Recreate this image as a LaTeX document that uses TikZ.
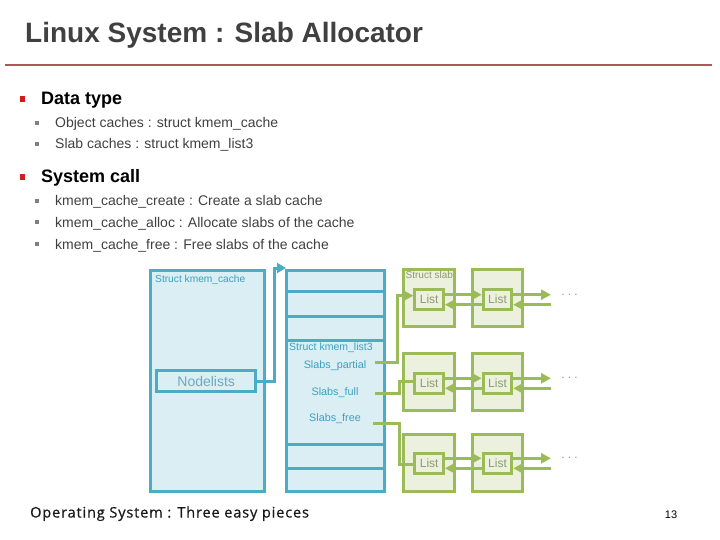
\documentclass[tikz,border=0pt]{standalone}
\usepackage{fontspec}
\setmainfont{Liberation Sans}
\newfontfamily\footfont[LetterSpace=6,FakeBold=0.6]{Open Sans}
\usetikzlibrary{arrows.meta,calc}
\definecolor{bb}{RGB}{75,172,198}
\definecolor{bf}{RGB}{219,238,244}
\definecolor{gb}{RGB}{155,187,89}
\definecolor{gf}{RGB}{235,241,222}
\definecolor{tealtxt}{RGB}{60,160,190}
\definecolor{nltxt}{RGB}{105,170,192}
\definecolor{listtxt}{RGB}{140,155,112}
\definecolor{titlegray}{RGB}{64,64,64}
\definecolor{bodygray}{RGB}{64,64,64}
\definecolor{rulered}{RGB}{172,89,89}
\definecolor{bulletred}{RGB}{204,30,30}
\definecolor{dotgray}{RGB}{150,150,150}
\tikzset{
  bluebox/.style={draw=bb, fill=bf, line width=3pt, inner sep=0pt},
  slabbox/.style={draw=gb, fill=gf, line width=3pt, inner sep=0pt, minimum width=50.5pt, minimum height=57pt},
  listbox/.style={draw=gb, fill=gf, line width=3pt, inner sep=0pt, minimum width=28.5pt, minimum height=20.5pt,
     text=listtxt, font=\fontsize{12}{13}\selectfont},
  gline/.style={draw=gb, line width=3pt},
  garrow/.style={draw=gb, line width=3pt, -{Triangle[length=10pt,width=10pt]}},
  barrow/.style={draw=bb, line width=3pt, -{Triangle[length=9pt,width=10pt]}},
  lbl/.style={inner sep=0pt},
  subitem/.style={anchor=base west, inner sep=0pt, text=bodygray, font=\fontsize{14}{16}\selectfont},
  head/.style={anchor=base west, inner sep=0pt, font=\fontsize{18}{20}\selectfont\bfseries},
  redbullet/.style={fill=bulletred, inner sep=0pt, minimum width=5pt, minimum height=6pt},
  graybullet/.style={fill=gray, inner sep=0pt, minimum width=4pt, minimum height=4pt},
  dots/.style={text=dotgray, font=\fontsize{12}{13}\selectfont, inner sep=0pt}
}
\begin{document}
\begin{tikzpicture}[x=1pt,y=-1pt]
\useasboundingbox (0,0) rectangle (720,540);
% title
\node[anchor=base west, inner sep=0pt, text=titlegray, font=\fontsize{28}{32}\selectfont\bfseries] (title) at (25,43) {Linux System : Slab Allocator};
\draw[rulered, line width=2.5pt] (5,65) -- (712,65);
% bullets
\node[redbullet] (rb1) at (22.5,99) {};
\node[head] (h1) at (41,105) {Data type};
\node[graybullet] (gb1) at (37,123) {};
\node[subitem] (s1) at (55,128) {Object caches : struct kmem\_cache};
\node[graybullet] (gb2) at (37,144) {};
\node[subitem] (s2) at (55,149) {Slab caches : struct kmem\_list3};
\node[redbullet] (rb2) at (22.5,177) {};
\node[head] (h2) at (41,183) {System call};
\node[graybullet] (gb3) at (37,201) {};
\node[subitem] (s3) at (55,206) {kmem\_cache\_create : Create a slab cache};
\node[graybullet] (gb4) at (37,222) {};
\node[subitem] (s4) at (55,227) {kmem\_cache\_alloc : Allocate slabs of the cache};
\node[graybullet] (gb5) at (37,244) {};
\node[subitem] (s5) at (55,249) {kmem\_cache\_free : Free slabs of the cache};
% kmem_cache
\node[bluebox, minimum width=114pt, minimum height=221pt] (KC) at (207,381.2) {};
\node[lbl, anchor=west, text=tealtxt, font=\fontsize{10.2}{11}\selectfont] (KCl) at (155,279.5) {Struct kmem\_cache};
\node[bluebox, minimum width=99pt, minimum height=21pt, text=nltxt, font=\fontsize{14}{16}\selectfont] (NL) at (206.2,381.2) {Nodelists};
% kmem_list3
\node[bluebox, minimum width=98.3pt, minimum height=221pt] (KL) at (335.8,381.2) {};
\foreach \yy in {291.7,316,340,444.3,468.3}
  \draw[bb, line width=3pt] ($(KL.west |- 0,\yy)+(1.5,0)$) -- ($(KL.east |- 0,\yy)+(-1.5,0)$);
\node[lbl, anchor=west, text=tealtxt, font=\fontsize{10.5}{11}\selectfont] (KLl) at (289,348) {Struct kmem\_list3};
\node[lbl, text=tealtxt, font=\fontsize{10.8}{12}\selectfont] (SP) at (335,366) {Slabs\_partial};
\node[lbl, text=tealtxt, font=\fontsize{10.8}{12}\selectfont] (SF) at (335,393) {Slabs\_full};
\node[lbl, text=tealtxt, font=\fontsize{10.8}{12}\selectfont] (SR) at (335,419) {Slabs\_free};
% nodelists arrow
\coordinate (kltip) at (286,268);
\draw[barrow] (NL.east) -| ($(kltip)+(-11.5,0)$) -- (kltip);
% slabs
\foreach \r/\sy in {1/298.3, 2/382, 3/462.5} {
  \node[slabbox] (S\r1) at (428.8,\sy) {};
  \node[slabbox] (S\r2) at (497.5,\sy) {};
}
\node[lbl, anchor=west, text=listtxt, font=\fontsize{10}{11}\selectfont] (SSl) at (405.5,274.5) {Struct slab};
\foreach \r/\ly in {1/299.7, 2/383.3, 3/463.3} {
  \node[listbox] (L\r1) at (429.2,\ly) {List};
  \node[listbox] (L\r2) at (497.5,\ly) {List};
  \coordinate (F\r) at (551,\ly-5);
  \coordinate (B\r) at (551,\ly+5);
  \draw[garrow] ($(L\r1.east)+(0,-5)$) -- ($(L\r2.west)+(0,-5)$);
  \draw[garrow] ($(L\r2.west)+(0,5)$) -- ($(L\r1.east)+(0,5)$);
  \draw[garrow] ($(L\r2.east)+(0,-5)$) -- (F\r);
  \draw[garrow] (B\r) -- ($(L\r2.east)+(0,5)$);
  \node[dots] (D\r) at (569.5,\ly-5) {.\hspace{3.2pt}.\hspace{3.2pt}.};
}
% lists from kmem_list3
\coordinate (p0) at (375,362.7);
\coordinate (f0) at (375,393.3);
\coordinate (r0) at (373,423);
\draw[garrow] (p0) -| ($(L11.west)+(-16,-4)$) -- ($(L11.west)+(0,-4)$);
\draw[gline] (f0) -| ($(L21.west)+(-14,-1.5)$) -- ($(L21.west)+(0,-1.5)$);
\draw[gline] (r0) -| ($(L31.west)+(-14,1.5)$) -- ($(L31.west)+(0,1.5)$);
% footer
\node[anchor=base west, inner sep=0pt, text=black!90, font=\footfont\fontsize{14.5}{16}\selectfont] (foot) at (30,517.5) {Operating System : Three easy pieces};
\node[anchor=base, inner sep=0pt, font=\fontsize{11}{12}\selectfont] (pg) at (671,518) {13};
\end{tikzpicture}
\end{document}
